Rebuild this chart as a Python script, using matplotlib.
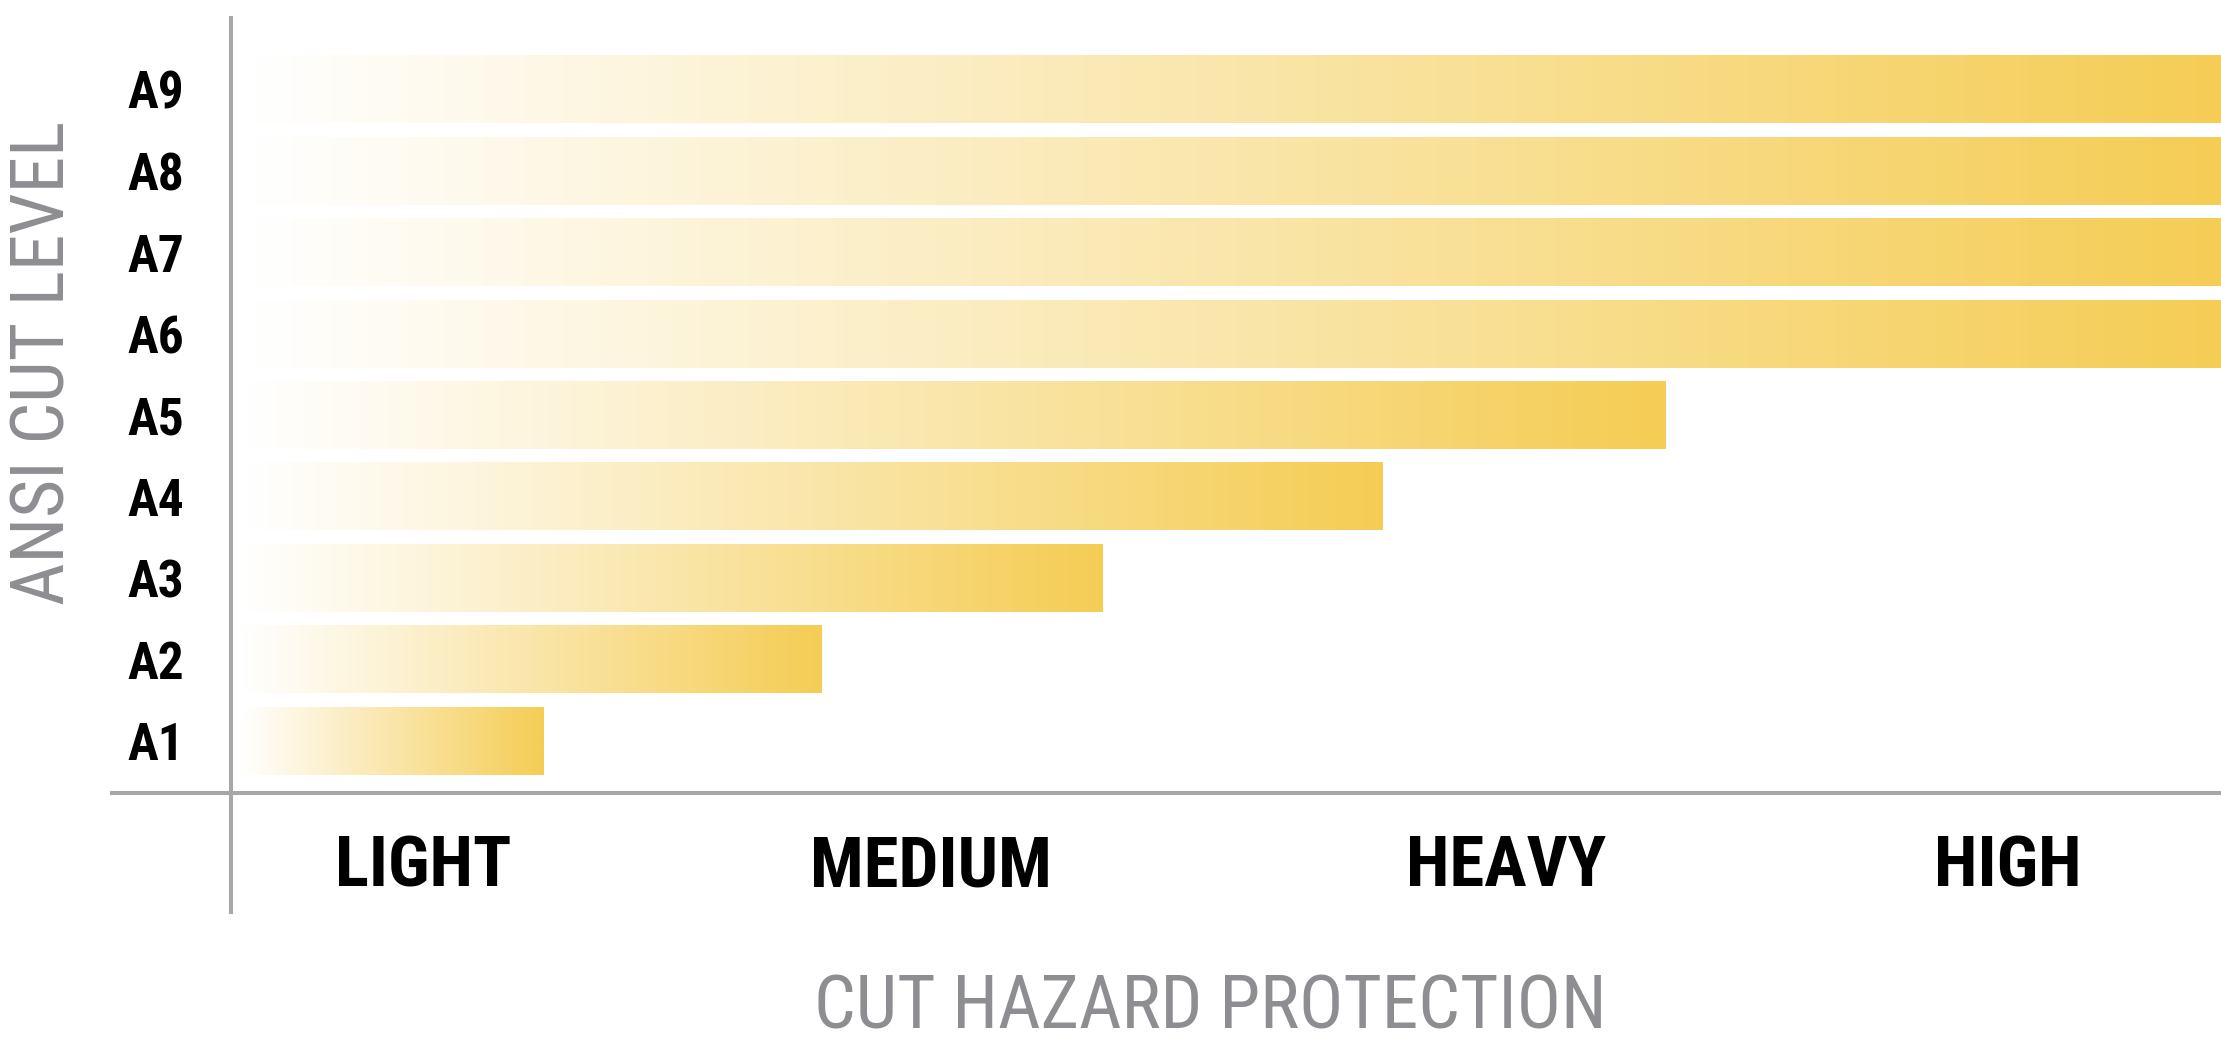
import numpy as np
import matplotlib
matplotlib.use("Agg")
import matplotlib.pyplot as plt
from matplotlib.colors import LinearSegmentedColormap

# data
levels = ["A1", "A2", "A3", "A4", "A5", "A6", "A7", "A8", "A9"]
protection = [1.08, 2.07, 3.07, 4.07, 5.08, 7.1, 7.1, 7.1, 7.1]
hazard_labels = ["LIGHT", "MEDIUM", "HEAVY", "HIGH"]
hazard_pos = [0.65, 2.46, 4.51, 6.30]

font = "Roboto Condensed"
gold = "#F5CD55"
gray_text = "#8E8E92"
gray_line = "#A7A7A9"
cmap = LinearSegmentedColormap.from_list("wg", ["#FFFFFF", gold])

fig = plt.figure(figsize=(22.21, 10.58), dpi=100)
ax = fig.add_axes([231 / 2221, 1 - 793 / 1058, 1 - 231 / 2221, 775 / 1058])

y = np.arange(1, len(levels) + 1)
bars = ax.barh(y, protection, height=0.835, left=0, color="none", edgecolor="none")
grad = np.linspace(0, 1, 256).reshape(1, -1)
for b, w in zip(bars, protection):
    x0, y0 = b.get_x(), b.get_y()
    im = ax.imshow(grad, cmap=cmap, aspect="auto", interpolation="bilinear",
                   extent=[x0, x0 + w, y0, y0 + b.get_height()], zorder=2)
    im.set_clip_path(b)
ax.set_xlim(-0.035, 7.06)
ax.set_ylim(0.359, 9.875)

# axis lines cross at the corner like a plus sign
for s in ax.spines.values():
    s.set_visible(False)
ax.plot([-0.06, 1], [0, 0], transform=ax.transAxes, color=gray_line, lw=2.9, clip_on=False)
ax.plot([0, 0], [-0.153, 1], transform=ax.transAxes, color=gray_line, lw=2.9, clip_on=False)

ax.set_yticks(y)
ax.set_yticklabels(levels, fontfamily=font, fontweight=900, fontsize=37)
ax.set_xticks(hazard_pos)
ax.set_xticklabels(hazard_labels, fontfamily=font, fontweight=900, fontsize=51)
ax.tick_params(axis="y", length=0, pad=34)
ax.tick_params(axis="x", length=0, pad=29)

ax.set_ylabel("ANSI CUT LEVEL", fontfamily=font, fontweight=400, fontsize=53,
              color=gray_text, va="center")
ax.yaxis.set_label_coords(-0.094, 0.555)
ax.set_xlabel("CUT HAZARD PROTECTION", fontfamily=font, fontweight=400, fontsize=53,
              color=gray_text, va="center")
ax.xaxis.set_label_coords(0.492, -0.278)

fig.savefig("out.png", dpi=100)
